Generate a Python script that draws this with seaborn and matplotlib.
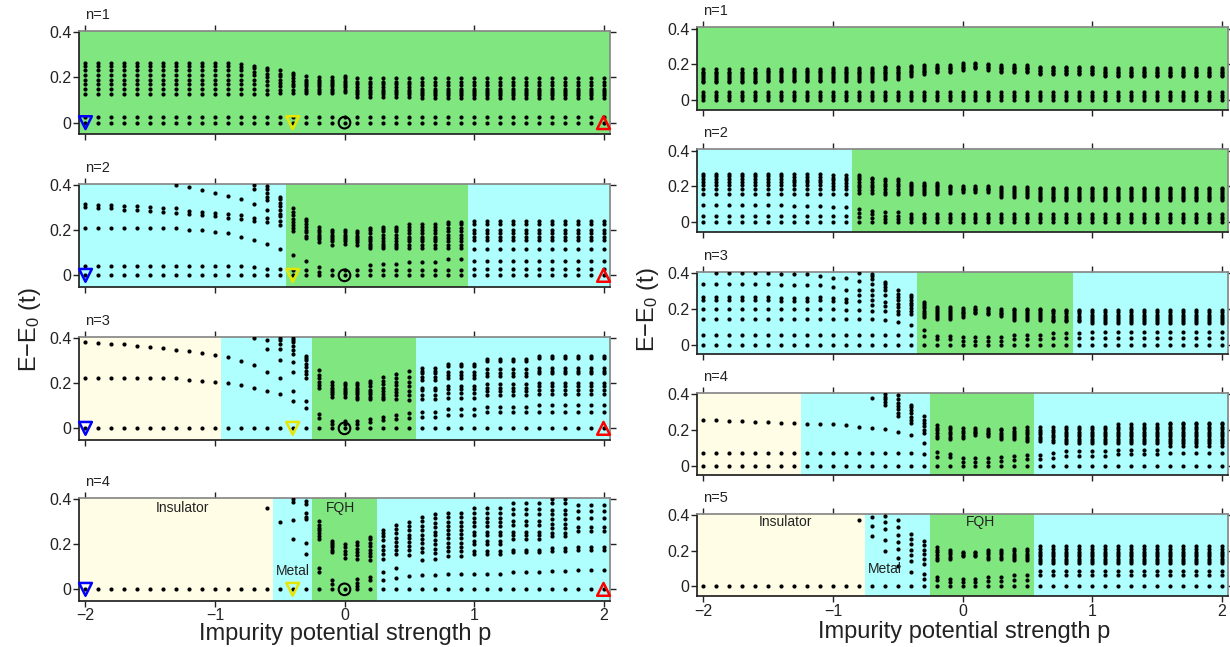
import numpy as np
import pandas as pd
import matplotlib
matplotlib.use("Agg")
import matplotlib.pyplot as plt
import seaborn as sns

# impurity strength grid (p)
P = [-2.0, -1.9, -1.8, -1.7, -1.6, -1.5, -1.4, -1.3, -1.2, -1.1, -1.0,
     -0.9, -0.8, -0.7, -0.6, -0.5, -0.4, -0.3, -0.2, -0.1, 0.0,
     0.1, 0.2, 0.3, 0.4, 0.5, 0.6, 0.7, 0.8, 0.9, 1.0,
     1.1, 1.2, 1.3, 1.4, 1.5, 1.6, 1.7, 1.8, 1.9, 2.0]

# spectra: (first p index, last p index, levels in units of 0.01 t)
LA1 = [
    (0, 11, [0, 2.5, 12.5, 15, 17, 19, 21, 23, 25, 26.5]),
    (12, 12, [0, 2.5, 12.5, 15, 17, 19, 21, 23, 24.5, 26]),
    (13, 13, [0, 2.5, 12.5, 15, 17, 19, 21, 22.5, 24, 25]),
    (14, 14, [0, 2.5, 12.5, 14.5, 16.5, 18.5, 20, 21.5, 23, 24]),
    (15, 15, [0, 2.5, 13, 14.5, 16, 17.5, 19, 20.5, 21.5, 23]),
    (16, 16, [0, 2.5, 13, 14.5, 16, 17, 18.5, 19.5, 21, 22]),
    (17, 17, [0, 2.5, 13, 14, 15, 16, 17, 18, 19, 20.5]),
    (18, 19, [0, 2.5, 13, 14, 15, 16, 17, 18, 19, 20]),
    (20, 20, [0, 2.5, 13.5, 14.5, 15.5, 16.5, 17.5, 18.5, 19.5, 20.5]),
    (21, 25, [0, 2.5, 11.5, 12.5, 13.5, 14.5, 15.5, 17, 18, 19.5]),
    (26, 40, [0, 2.5, 11, 12, 13, 14, 15, 16.5, 18, 19.5]),
]
LA2 = [
    (0, 0, [0, 4, 21, 30, 31.5]),
    (1, 2, [0, 4, 21, 29.5, 31]),
    (3, 4, [0, 4, 21, 29, 30.5]),
    (5, 5, [0, 4, 21, 28.5, 30]),
    (6, 6, [0, 4, 21, 28, 29.5]),
    (7, 7, [0, 4, 21, 27.5, 29.5, 40]),
    (8, 8, [0, 4, 20, 27, 28.5, 39]),
    (9, 9, [0, 4, 20, 26.5, 28, 37.5]),
    (10, 10, [0, 4, 19, 26, 27.5, 36.5]),
    (11, 11, [0, 4, 18.5, 25.5, 27, 35]),
    (12, 12, [0, 4, 17, 25, 26.5, 33.5]),
    (13, 13, [0, 3.5, 15.5, 24, 25.5, 31.5, 38, 40]),
    (14, 14, [0, 3, 14, 23.5, 25.5, 29, 33, 34.5, 36.5, 38, 39.5]),
    (15, 15, [0, 3, 11.5, 22, 24, 26, 27, 29, 30.5, 32, 33.5, 34.5]),
    (16, 16, [0, 2.5, 9, 19.5, 21, 22, 23.5, 25, 26.5, 28, 29.5]),
    (17, 17, [0, 2.5, 6.5, 16.5, 17.5, 19, 20, 21.5, 22.5, 24, 25]),
    (18, 18, [0, 1.5, 3.5, 14.5, 16, 17, 18, 19, 20, 21.5]),
    (19, 19, [0, 2.5, 13.5, 15, 16, 17, 18, 19, 20]),
    (20, 20, [0, 2.5, 14, 15, 16, 17, 18, 19, 20]),
    (21, 21, [0, 2.5, 13.5, 14.5, 15.5, 16.5, 17.5, 18.5, 19.5]),
    (22, 22, [0, 2.5, 4.5, 12, 13, 14, 15, 16, 17, 18.5, 20, 21]),
    (23, 24, [0, 2.5, 5, 12, 13, 14, 15, 16.5, 18, 19.5, 20.5, 21.5]),
    (25, 27, [0, 2.5, 6, 12, 13.5, 15, 16, 17, 18.5, 20, 21.5, 22.5]),
    (28, 29, [0, 2.5, 7, 12, 13.5, 15, 16.5, 18, 19.5, 21, 22.5, 23.5]),
    (30, 40, [0, 3, 6.5, 11.7, 15.5, 17, 18.5, 20, 22.5, 24]),
]
LA3 = [
    (0, 0, [0, 22, 38]),
    (1, 1, [0, 22, 37.5]),
    (2, 2, [0, 22, 37.3]),
    (3, 3, [0, 22, 37]),
    (4, 4, [0, 22, 36.5]),
    (5, 5, [0, 22, 36]),
    (6, 6, [0, 22, 35.3]),
    (7, 7, [0, 22, 34.7]),
    (8, 8, [0, 21.5, 34]),
    (9, 9, [0, 21, 33.3]),
    (10, 10, [0, 20.5, 32.5]),
    (11, 11, [0, 19.8, 31.5]),
    (12, 12, [0, 19, 29.7]),
    (13, 13, [0, 18, 27.8, 40]),
    (14, 14, [0, 16.3, 25, 35, 39]),
    (15, 15, [0, 15, 22, 30, 35, 37, 39, 40]),
    (16, 16, [0, 12, 16.5, 25, 29.3, 32.7, 34.5, 36.3, 38, 39, 40]),
    (17, 17, [0, 9, 12, 22, 24, 25.5, 27, 28.5, 30, 31, 32]),
    (18, 18, [0, 4.4, 6.3, 17.6, 19, 20.5, 22, 23.5, 25.6]),
    (19, 19, [0, 2, 3.4, 14, 15, 16, 17, 18, 19, 20.5]),
    (20, 20, [0, 2, 3.4, 14, 15, 16, 17, 18, 19, 20]),
    (21, 21, [0, 2, 3.4, 13, 14, 15, 16, 17, 18, 19, 20]),
    (22, 22, [0, 2.8, 4.2, 13, 14, 15, 16, 17, 18.5, 20, 21]),
    (23, 23, [0, 3.5, 5, 13, 14, 15, 16.5, 18, 19.5, 21, 22.5]),
    (24, 24, [0, 4, 6, 12.8, 14.5, 16, 17.5, 19, 20.5, 22, 24]),
    (25, 25, [0, 4.4, 6.6, 12.7, 14.5, 16.5, 18.5, 20.5, 22.5, 25.3]),
    (26, 27, [0, 4.9, 7.4, 12.8, 14.7, 16.9, 18, 21.3, 22.5, 24.2, 25.4, 26.4]),
    (28, 30, [0, 6, 8.5, 13.5, 15.5, 17.5, 18.5, 22, 23.5, 25, 27.5, 28.5]),
    (31, 34, [0, 7, 9.5, 14.5, 16.5, 18, 19.5, 23, 24.5, 26, 29.5, 30.5]),
    (35, 40, [0, 7.4, 10.2, 15.2, 17, 18.6, 20, 24.2, 25.4, 26.4, 30.8, 31.8]),
]
LA4 = [
    (0, 13, [0]),
    (14, 14, [0, 36]),
    (15, 15, [0, 29.5]),
    (16, 16, [0, 22, 30.5, 38.5, 40]),
    (17, 17, [0, 15.5, 20.5, 31, 32, 33.5, 37.5, 39]),
    (18, 18, [0, 7.7, 9.6, 22, 23.5, 25, 26, 27, 28.5, 30]),
    (19, 19, [0, 2.5, 4.3, 16.5, 17.5, 18.5, 19.5, 20.5, 21.5]),
    (20, 20, [0, 14, 15.5, 17, 18.5, 20]),
    (21, 21, [0, 1.5, 3, 4.5, 13.5, 15, 16.5, 18, 19.5, 21]),
    (22, 22, [0, 4, 5.5, 13, 14.5, 16, 17.5, 19, 20.5, 22, 23]),
    (23, 23, [0, 4.3, 7.7, 13.6, 15.6, 17.3, 19.1, 21.8, 23.3, 24.8, 26.2]),
    (24, 24, [0, 5.2, 9.6, 15.4, 17.3, 19.1, 21, 22.5, 24.8, 26.5, 28.4]),
    (25, 25, [0, 5.8, 15.1, 17.3, 19.1, 21, 22.5, 24, 26.2, 28, 29.9]),
    (26, 26, [0, 6.2, 12.9, 16.6, 18.4, 20.4, 22.2, 24, 26, 28, 30, 31.8]),
    (27, 27, [0, 6.5, 13.6, 16, 18, 19.8, 21.6, 23.8, 25.3, 27.5, 29.3, 31.3, 33.1]),
    (28, 29, [0, 6.7, 14.5, 17, 18.8, 20.6, 22.5, 24.4, 26.2, 28, 29.9, 31.8, 33.8]),
    (30, 32, [0, 6.8, 15.5, 17, 20, 21.3, 24, 25.5, 28, 29.5, 31.5, 33.5, 36]),
    (33, 35, [0, 7.5, 16.5, 17.5, 22, 23.8, 25.3, 28.3, 30.2, 33.2, 35.3, 38.2]),
    (36, 37, [0, 8, 17, 18.3, 23.5, 25, 27, 29, 30.8, 33, 35, 38, 40]),
    (38, 40, [0, 8.7, 17.3, 18.8, 25.8, 27.4, 31.4, 34.4, 37.3]),
]

LOW4 = [0, 1.5, 3, 4.5]
RA1 = [
    (0, 4, LOW4 + [10, 11, 12, 13, 14, 15, 16, 17.3]),
    (5, 9, LOW4 + [10.5, 11.5, 12.5, 13.5, 14.5, 15.5, 16.5, 17.6]),
    (10, 13, LOW4 + [11, 12, 13, 14, 15, 16, 17, 18]),
    (14, 15, LOW4 + [12, 13, 14, 15, 16, 17, 18, 18.6]),
    (16, 16, LOW4 + [13.5, 14.5, 15.5, 16.5, 17.5, 18.5, 19.1]),
    (17, 17, LOW4 + [14.6, 15.5, 16.5, 17.5, 18.5, 19.7]),
    (18, 19, LOW4 + [15.5, 16.3, 17.2, 18, 18.8, 19.7]),
    (20, 20, LOW4 + [16.9, 17.8, 18.7, 19.6, 20.6]),
    (21, 21, LOW4 + [17.8, 18.6, 19.4, 20.2, 21]),
    (22, 22, LOW4 + [16.9, 17.8, 18.7, 19.6, 20.2]),
    (23, 25, LOW4 + [15.5, 16.3, 17.2, 18, 18.8, 19.7]),
    (26, 30, LOW4 + [14.5, 15.3, 16.2, 17, 17.8, 18.8]),
    (31, 40, LOW4 + [13.5, 14.3, 15.2, 16, 16.8, 17.8]),
]
RA2 = [
    (0, 6, [0, 3.7, 9.4, 15.9, 18.7, 20.6, 22.5, 24, 25.7, 27.2]),
    (7, 9, [0, 3.7, 9.2, 15.9, 18.7, 20.6, 22.3, 23.8, 25.5, 26.8]),
    (10, 11, [0, 3.7, 8.4, 15.7, 18.5, 20.4, 22, 23.5, 25, 26.5]),
    (12, 12, [0, 2.8, 5.2, 7.5, 16.5, 18, 19.5, 21, 22.5, 24, 25.5, 26.2]),
    (13, 13, [0, 2.2, 4.5, 6.5, 16.5, 18, 19.5, 21, 22.5, 24, 25]),
    (14, 15, [0, 1.7, 3.5, 5.6, 15.5, 17, 18.5, 20, 21.5, 23, 24]),
    (16, 18, [0, 1.5, 3, 4.8, 16, 17, 18, 19, 20, 21, 22]),
    (19, 19, [0, 1.5, 3, 4.8, 16.5, 17.5, 18.5, 19.5, 20.5]),
    (20, 22, [0, 1.5, 3, 4.8, 17, 17.8, 18.6, 19.4, 20.2]),
    (23, 25, [0, 1.5, 3, 4.8, 14, 15.2, 16.4, 17.6, 18.8, 19.6]),
    (26, 40, [0, 1.5, 3, 4.8, 12.3, 13.3, 14.3, 15.3, 16.3, 17.3, 18.3, 19]),
]
RA3 = [
    (0, 0, [0, 5.6, 14.4, 20, 25.1, 26.6, 34.1]),
    (1, 5, [0, 5.6, 14.4, 20, 25.1, 26.6, 34.1, 40]),
    (6, 8, [0, 5.6, 14.4, 20, 24.5, 26, 33.6, 39.5]),
    (9, 9, [0, 5.6, 14.4, 20, 24.7, 26.6, 33.5, 38.2]),
    (10, 10, [0, 5.6, 14.4, 20, 24.3, 26.2, 32.2, 37.4]),
    (11, 11, [0, 5.6, 14.4, 19.5, 23.8, 25.6, 30.7, 37]),
    (12, 12, [0, 5.6, 14.4, 19.5, 24.3, 27.5, 30.3, 35.6, 40]),
    (13, 13, [0, 5.6, 14.4, 18.7, 21.9, 24.7, 27.5, 30.7, 34.1, 36.9, 38.2, 39.3]),
    (14, 14, [0, 5.6, 13.5, 18.7, 21.5, 23.8, 27.5, 30.3, 32.2, 33.7, 35]),
    (15, 15, [0, 5.6, 12.5, 17.2, 19, 21, 22.8, 24.7, 26.5, 28.5, 30.7]),
    (16, 16, [0, 5.6, 10.7, 17.2, 18.7, 20.3, 21.9, 23.5, 25.1, 26.6, 27.5]),
    (17, 17, [0, 5, 7.9, 15.3, 16.5, 17.8, 19, 20.3, 21.5, 22.8, 23.8]),
    (18, 19, [0, 3.2, 5, 14.4, 15.5, 16.6, 17.7, 18.8, 20, 21]),
    (20, 20, [0, 2.2, 4.5, 15.4, 16.4, 17.4, 18.4, 19.5, 20.6]),
    (21, 21, [0, 2.2, 4.5, 17.6, 18.4, 19.3, 20.1, 21]),
    (22, 22, [0, 2.2, 4.5, 17, 17.9, 18.8, 19.7, 20.6]),
    (23, 23, [0, 2.2, 4.5, 15.9, 16.9, 17.9, 18.9, 20]),
    (24, 26, [0, 3.2, 5.6, 13.9, 15, 16.1, 17.2, 18.3, 19.4, 20]),
    (27, 29, [0, 3.5, 6.5, 13, 14, 15, 16.2, 17.4, 18.6, 19.4]),
    (30, 40, [0, 3.7, 6.9, 12, 13.2, 14.4, 15.6, 16.8, 18, 19.5]),
]
RA4 = [
    (0, 1, [0, 6.9, 25.5]),
    (2, 3, [0, 6.9, 25]),
    (4, 5, [0, 6.9, 24.5]),
    (6, 7, [0, 6.9, 24]),
    (8, 9, [0, 6.9, 23.5]),
    (10, 10, [0, 6.9, 23]),
    (11, 11, [0, 6.9, 22.5]),
    (12, 12, [0, 6.9, 21.8]),
    (13, 13, [0, 6.9, 20.9, 37.7]),
    (14, 14, [0, 6.9, 20.2, 33.9, 35.8, 37.1, 38.6, 40]),
    (15, 15, [0, 6.9, 19, 27.5, 29.5, 31.4, 33.3, 35.2, 37.1, 39.5]),
    (16, 16, [0, 6.9, 17.2, 23.7, 25.5, 27.3, 29.2, 31, 33, 34]),
    (17, 17, [0, 6.5, 12.5, 18.1, 20, 21.9, 23.8, 25.7, 27.5]),
    (18, 18, [0, 5, 7.8, 15.3, 16.8, 18.3, 19.8, 21.3, 22.7]),
    (19, 19, [0, 4.7, 6.5, 14.7, 16.1, 17.5, 18.9, 20.3, 21.8]),
    (20, 20, [0, 2.2, 4.1, 15.3, 16.7, 18.1, 19.5, 20.9]),
    (21, 21, [0, 2.2, 4.1, 17.2, 18.1, 19, 20, 20.9]),
    (22, 22, [0, 2.2, 4.5, 16.6, 17.5, 18.4, 19.4, 20.3]),
    (23, 23, [0, 2.8, 5, 14.7, 16, 17.2, 18.5, 19.7, 20.3]),
    (24, 24, [0, 3.2, 5.5, 14.7, 15.9, 17.1, 18.3, 19.5, 20.9]),
    (25, 26, [0, 3.5, 6.2, 13.5, 14.8, 16.1, 17.4, 18.7, 20, 21.5]),
    (27, 27, [0, 4, 7, 13, 14.4, 15.8, 17.2, 18.6, 20, 21.8]),
    (28, 31, [0, 5.5, 8, 12.5, 13.8, 15.1, 16.4, 17.7, 19, 20.3, 21.8]),
    (32, 35, [0, 6.5, 9, 12.5, 13.8, 15.1, 16.4, 17.7, 19, 20.3, 21.6, 23]),
    (36, 40, [0, 7.3, 10.7, 12.5, 13.8, 15.1, 16.4, 17.7, 19, 20.3, 21.6, 23, 24]),
]
RA5 = [
    (0, 11, [0]),
    (12, 12, [0, 37]),
    (13, 13, [0, 28, 34, 39]),
    (14, 14, [0, 20, 26, 32, 36, 39.5]),
    (15, 15, [0, 11.5, 16, 21, 25, 29, 33, 37]),
    (16, 16, [0, 8, 14, 17.5, 20.5, 23.5, 26.5, 29.5]),
    (17, 17, [0, 4.3, 7, 12.5, 15.5, 18, 20.5, 23, 25.5]),
    (18, 18, [0, 3.5, 5.5, 14.5, 16, 17.5, 19, 20.5, 22]),
    (19, 19, [0, 2.2, 4.3, 15.5, 16.7, 17.9, 19.1, 20.3]),
    (20, 21, [0, 2.2, 4.3, 17, 17.8, 18.6, 19.4]),
    (22, 23, [0, 2.8, 5, 15.5, 16.7, 17.9, 19.1, 20.3]),
    (24, 25, [0, 3.5, 6.3, 14.5, 15.8, 17.1, 18.4, 19.7, 21]),
    (26, 40, [0, 6.5, 8.5, 13, 14.3, 15.6, 16.9, 18.2, 19.5, 21, 22.5]),
]

# phase regions: (p from, p to, phase)
LEFT_PHASES = [
    [(-2.05, 2.05, "FQH")],
    [(-2.05, -0.45, "Metal"), (-0.45, 0.95, "FQH"), (0.95, 2.05, "Metal")],
    [(-2.05, -0.95, "Insulator"), (-0.95, -0.25, "Metal"), (-0.25, 0.55, "FQH"), (0.55, 2.05, "Metal")],
    [(-2.05, -0.55, "Insulator"), (-0.55, -0.25, "Metal"), (-0.25, 0.25, "FQH"), (0.25, 2.05, "Metal")],
]
RIGHT_PHASES = [
    [(-2.05, 2.05, "FQH")],
    [(-2.05, -0.85, "Metal"), (-0.85, 2.05, "FQH")],
    [(-2.05, -0.35, "Metal"), (-0.35, 0.85, "FQH"), (0.85, 2.05, "Metal")],
    [(-2.05, -1.25, "Insulator"), (-1.25, -0.25, "Metal"), (-0.25, 0.55, "FQH"), (0.55, 2.05, "Metal")],
    [(-2.05, -0.75, "Insulator"), (-0.75, -0.25, "Metal"), (-0.25, 0.55, "FQH"), (0.55, 2.05, "Metal")],
]
PHASE_COLORS = {"FQH": "#80e680", "Metal": "#b0ffff", "Insulator": "#fffde6"}

# special points marked on the left column
MARK_P = [-2.0, -0.4, 0.0, 2.0]


def to_frame(groups):
    rows = []
    for i0, i1, levels in groups:
        for i in range(i0, i1 + 1):
            for e in levels:
                rows.append((P[i], e / 100.0))
    return pd.DataFrame(rows, columns=["p", "E"])


sns.set_theme(style="ticks")
plt.rcParams["font.family"] = ["Liberation Sans", "DejaVu Sans"]
plt.rcParams["mathtext.default"] = "regular"

fig = plt.figure(figsize=(12.3, 6.47), dpi=100)
W, H = 1230.0, 647.0


def panel(x0, top, h, groups, phases, label, ylim, last, marks):
    ax = fig.add_axes([x0 / W, 1 - (top + h) / H, 531 / W, h / H])
    for a, b, ph in phases:
        ax.axvspan(a, b, color=PHASE_COLORS[ph], lw=0, zorder=0)
    sns.scatterplot(data=to_frame(groups), x="p", y="E", ax=ax, color="black",
                    s=9, linewidth=0, legend=False, zorder=3)
    if marks:
        ax.scatter([MARK_P[0]], [0], marker="v", s=85, facecolors="none",
                   edgecolors="#0000ff", linewidths=1.8, zorder=4, clip_on=False)
        ax.scatter([MARK_P[1]], [0], marker="v", s=85, facecolors="none",
                   edgecolors="#e6e600", linewidths=1.8, zorder=4)
        ax.scatter([MARK_P[2]], [0], marker="o", s=70, facecolors="none",
                   edgecolors="black", linewidths=1.5, zorder=4)
        ax.scatter([MARK_P[3]], [0], marker="^", s=85, facecolors="none",
                   edgecolors="#ff0000", linewidths=1.8, zorder=4, clip_on=False)
    ax.set_xlim(-2.05, 2.05)
    ax.set_ylim(*ylim)
    ax.set_xticks([-2, -1, 0, 1, 2])
    ax.set_yticks([0, 0.2, 0.4])
    ax.set_yticklabels(["0", "0.2", "0.4"])
    ax.set_xlabel("")
    ax.set_ylabel("")
    ax.tick_params(direction="out", top=True, right=True, length=4, width=1,
                   labelsize=11.5, pad=1.5, colors="#222222")
    if not last:
        ax.tick_params(labelbottom=False)
    for s in ["left", "bottom"]:
        ax.spines[s].set_color("#222222")
    for s in ["top", "right"]:
        ax.spines[s].set_visible(True)
        ax.spines[s].set_color("#888888")
    ax.text(-2.0, 1.0 + 16 / h, label, transform=ax.get_xaxis_transform(),
            ha="left", va="center", fontsize=10.5, color="#222222")
    return ax


left = [LA1, LA2, LA3, LA4]
left_tops = [31, 183.7, 336.7, 497.7]
for k, g in enumerate(left):
    ax = panel(79, left_tops[k], 103, g, LEFT_PHASES[k], "n=%d" % (k + 1),
               (-0.05, 0.404), k == 3, True)
    if k == 3:
        ax.text(-1.25, 0.36, "Insulator", ha="center", va="center", fontsize=10, color="#222222")
        ax.text(-0.4, 0.08, "Metal", ha="center", va="center", fontsize=10, color="#222222")
        ax.text(-0.03, 0.36, "FQH", ha="center", va="center", fontsize=10, color="#222222")

right = [RA1, RA2, RA3, RA4, RA5]
right_tops = [27.3, 149.3, 271.7, 392.7, 513.5]
for k, g in enumerate(right):
    ax = panel(697, right_tops[k], 82.7, g, RIGHT_PHASES[k], "n=%d" % (k + 1),
               (-0.055, 0.408), k == 4, False)
    if k == 4:
        ax.text(-1.37, 0.36, "Insulator", ha="center", va="center", fontsize=10, color="#222222")
        ax.text(-0.6, 0.1, "Metal", ha="center", va="center", fontsize=10, color="#222222")
        ax.text(0.14, 0.36, "FQH", ha="center", va="center", fontsize=10, color="#222222")

fig.text(30 / W, 1 - 330 / H, "E\u2212E$_0$ (t)", rotation=90, ha="center", va="center",
         fontsize=17, color="#222222")
fig.text(648 / W, 1 - 310 / H, "E\u2212E$_0$ (t)", rotation=90, ha="center", va="center",
         fontsize=17, color="#222222")
fig.text(345 / W, 1 - 645 / H, "Impurity potential strength p", ha="center", va="bottom",
         fontsize=17, color="#222222")
fig.text(964 / W, 1 - 643 / H, "Impurity potential strength p", ha="center", va="bottom",
         fontsize=17, color="#222222")

fig.savefig("out.png", dpi=100)
